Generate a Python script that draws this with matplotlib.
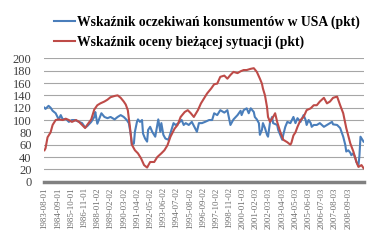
import matplotlib.pyplot as plt

# months since 1983-08 and index values
tick_labels = ["1983-08-01", "1984-09-01", "1985-10-01", "1986-11-01", "1988-01-02",
               "1989-02-02", "1990-03-02", "1991-04-02", "1992-05-02", "1993-06-02",
               "1994-07-02", "1995-08-02", "1996-09-02", "1997-10-02", "1998-11-02",
               "2000-01-03", "2001-02-03", "2002-03-03", "2003-04-03", "2004-05-03",
               "2005-06-03", "2006-07-03", "2007-08-03", "2008-09-03"]

exp_months = [0, 1, 4, 6, 8, 11, 14, 16, 18, 21, 24, 27, 30, 34, 37, 40, 42, 46, 49, 50,
              52, 56, 59, 62, 65, 69, 72, 75, 78, 81, 83, 85, 86, 88, 89, 91, 92, 94, 96, 97,
              99, 101, 102, 104, 106, 109, 112, 114, 115, 117, 119, 122, 125, 127, 129, 132,
              135, 137, 139, 142, 145, 150, 152, 155, 158, 162, 165, 167, 170, 173, 177, 180,
              181, 183, 186, 190, 193, 194, 196, 199, 201, 203, 206, 207, 209, 211, 212, 214,
              215, 217, 219, 220, 222, 224, 225, 229, 230, 232, 234, 235, 237, 239, 242, 245,
              247, 249, 252, 255, 257, 258, 260, 262, 263, 265, 268, 271, 275, 278, 281, 283,
              284, 288, 291, 294, 296, 297, 299, 301, 302, 304, 306, 307, 309, 310, 311, 314]
expectations = [120, 118, 123, 120, 115, 111, 101, 108, 101, 102, 97, 100, 100, 97, 95, 88, 90, 97, 105, 113,
                94, 111, 105, 103, 105, 101, 105, 108, 105, 100, 95, 76, 60, 62, 81, 97, 101, 97, 100, 78,
                70, 65, 84, 89, 81, 73, 101, 81, 95, 76, 70, 68, 84, 95, 92, 95,
                100, 92, 95, 92, 97, 81, 95, 95, 97, 100, 100, 111, 108, 116, 112, 116,
                108, 92, 101, 108, 115, 108, 116, 119, 111, 119, 113, 105, 101, 95, 76, 84,
                95, 87, 76, 73, 97, 105, 95, 92, 84, 76, 68, 76, 89, 97, 95, 105,
                95, 103, 97, 108, 100, 92, 100, 95, 89, 92, 92, 95, 89, 92, 95, 97,
                93, 92, 87, 73, 60, 49, 51, 47, 43, 46, 38, 32, 26, 43, 73, 65]

cur_months = [0, 1, 3, 6, 8, 11, 14, 18, 21, 24, 27, 31, 34, 37, 40, 42, 46, 49, 52, 55,
              59, 62, 65, 69, 72, 75, 78, 80, 82, 84, 86, 89, 92, 95, 98, 101, 104, 108, 111, 115,
              118, 121, 124, 128, 131, 134, 138, 141, 144, 147, 151, 154, 157, 160, 164, 167,
              170, 173, 177, 180, 183, 186, 190, 193, 196, 199, 203, 206, 209, 212, 214, 215,
              217, 219, 220, 222, 225, 227, 229, 232, 235, 239, 242, 243, 245, 247, 249, 252,
              255, 258, 262, 265, 268, 271, 275, 278, 281, 284, 288, 291, 294, 297, 301, 304,
              307, 309, 312, 314]
current = [51, 54, 72, 80, 92, 100, 101, 100, 102, 100, 97, 100, 97, 92, 87, 92, 101, 117, 124, 127,
           130, 133, 137, 139, 140, 136, 130, 125, 116, 90, 60, 51, 46, 38, 27, 23, 32, 32, 40, 46,
           51, 59, 73, 86, 92, 105, 113, 116, 111, 105, 116, 127, 135, 143, 151, 158,
           159, 170, 172, 167, 173, 178, 176, 179, 181, 181, 183, 184, 178, 167, 159, 151,
           140, 121, 105, 97, 105, 111, 97, 81, 68, 64, 60, 63, 75, 80, 89, 100,
           105, 116, 119, 124, 124, 130, 136, 127, 130, 136, 138, 124, 111, 87, 62, 49,
           32, 24, 27, 22]

blue = "#4a7ebb"
red = "#be4b48"

fig = plt.figure(figsize=(3.8, 2.42), dpi=100)
ax = fig.add_axes([0.116, 0.249, 0.842, 0.510])

l1, = ax.plot(exp_months, expectations, color=blue, lw=1.5,
              label="Wskaźnik oczekiwań konsumentów w USA (pkt)")
l2, = ax.plot(cur_months, current, color=red, lw=1.5,
              label="Wskaźnik oceny bieżącej sytuacji (pkt)")

ax.set_ylim(0, 200)
ax.set_xlim(-0.4, 314.5)
ax.set_yticks(range(0, 201, 20))
ax.grid(axis="y", color="#a6a6a6", lw=0.8)
ax.set_axisbelow(True)
for s in ["top", "right", "left"]:
    ax.spines[s].set_visible(False)
ax.spines["bottom"].set_color("#808080")
ax.spines["bottom"].set_linewidth(2.5)

ax.set_xticks([i * 13 for i in range(len(tick_labels))])
ax.set_xticklabels(tick_labels, rotation=90, fontsize=6.3, color="#6a6a6a",
                   family="Liberation Serif")
ax.tick_params(length=0, pad=4)
for t in ax.get_yticklabels():
    t.set_family("Liberation Serif")
    t.set_fontsize(9)
    t.set_color("#404040")
ax.tick_params(axis="y", pad=9)

fig.legend(handles=[l1, l2], loc="upper left", bbox_to_anchor=(0.125, 0.965),
           frameon=False, borderpad=0, handlelength=1.55, handletextpad=0.12,
           labelspacing=0.5,
           prop={"family": "Liberation Serif", "size": 9.8, "weight": "bold"})

fig.savefig("out.png", dpi=100)
